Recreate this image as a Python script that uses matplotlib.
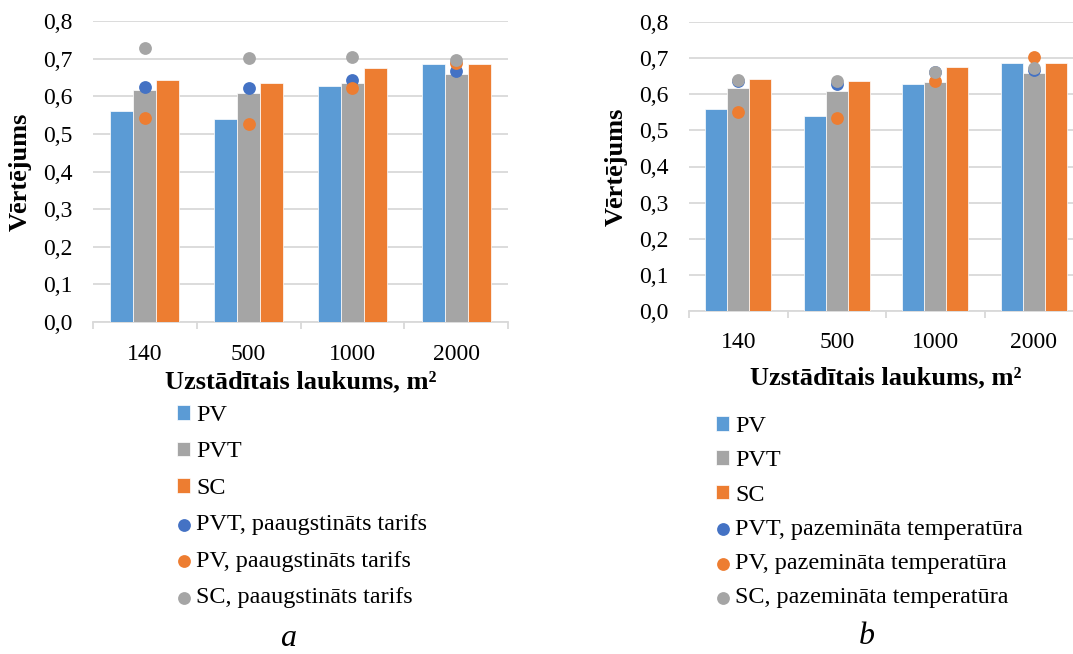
import matplotlib
matplotlib.use("Agg")
import matplotlib.pyplot as plt
import numpy as np
from matplotlib.ticker import FuncFormatter

plt.rcParams['font.family'] = ['Liberation Serif', 'DejaVu Serif']

categories = ["140", "500", "1000", "2000"]

# Bars (same in both panels)
pv_a = [0.56, 0.54, 0.627, 0.687]
pvt_a = [0.617, 0.608, 0.635, 0.660]
sc_a = [0.643, 0.636, 0.674, 0.687]

pv_b = [0.56, 0.54, 0.628, 0.688]
pvt_b = [0.617, 0.609, 0.635, 0.660]
sc_b = [0.643, 0.636, 0.675, 0.688]

# Points panel a (paaugstināts tarifs)
pvt_pt_a = [0.624, 0.622, 0.644, 0.668]
pv_pt_a = [0.542, 0.526, 0.621, 0.688]
sc_pt_a = [0.727, 0.701, 0.703, 0.697]

# Points panel b (pazemināta temperatūra)
pvt_pt_b = [0.637, 0.628, 0.661, 0.668]
pv_pt_b = [0.550, 0.534, 0.638, 0.705]
sc_pt_b = [0.640, 0.638, 0.662, 0.672]

labels_a = ["PV", "PVT", "SC", "PVT, paaugstināts tarifs",
            "PV, paaugstināts tarifs", "SC, paaugstināts tarifs"]
labels_b = ["PV", "PVT", "SC", "PVT, pazemināta temperatūra",
            "PV, pazemināta temperatūra", "SC, pazemināta temperatūra"]

C_PV = "#5B9BD5"
C_PVT = "#A5A5A5"
C_SC = "#ED7D31"
C_DOT_BLUE = "#4472C4"
C_DOT_OR = "#ED7D31"
C_DOT_GR = "#A5A5A5"
GRID = "#D9D9D9"

W, H = 1073, 654
fig = plt.figure(figsize=(W / 100, H / 100), dpi=100)


def px_axes(l, t, r, b):
    return fig.add_axes([l / W, 1 - b / H, (r - l) / W, (b - t) / H])


def draw_panel(ax, pv, pvt, sc, p_pvt, p_pv, p_sc, labels,
               leg_xy, leg_spacing, xpad, xlabpad):
    x = np.arange(len(categories))
    bw = 1 / 4.5
    b1 = ax.bar(x - bw, pv, bw, color=C_PV, edgecolor="white", linewidth=0.5, zorder=2)
    b2 = ax.bar(x, pvt, bw, color=C_PVT, edgecolor="white", linewidth=0.5, zorder=2)
    b3 = ax.bar(x + bw, sc, bw, color=C_SC, edgecolor="white", linewidth=0.5, zorder=2)
    s1 = ax.scatter(x, p_pvt, s=85, color=C_DOT_BLUE, zorder=3, linewidths=0)
    s2 = ax.scatter(x, p_pv, s=85, color=C_DOT_OR, zorder=4, linewidths=0)
    s3 = ax.scatter(x, p_sc, s=85, color=C_DOT_GR, zorder=5, linewidths=0)

    ax.set_xlim(-0.5, len(categories) - 0.5)
    ax.set_ylim(0, 0.8)
    ax.set_yticks(np.arange(0, 0.81, 0.1))
    ax.yaxis.set_major_formatter(FuncFormatter(lambda v, p: f"{v:.1f}".replace(".", ",")))
    ax.grid(axis="y", color=GRID, linewidth=1.3, zorder=0)
    ax.set_axisbelow(True)
    for s in ["top", "right", "left"]:
        ax.spines[s].set_visible(False)
    ax.spines["bottom"].set_color(GRID)
    ax.spines["bottom"].set_linewidth(1.3)
    ax.spines["bottom"].set_zorder(1)

    ax.set_xticks(x)
    ax.set_xticklabels(categories)
    ax.set_xticks(np.arange(-0.5, len(categories), 1.0), minor=True)
    ax.tick_params(axis="x", which="major", length=0, pad=xpad, labelsize=17)
    ax.tick_params(axis="x", which="minor", length=5, width=1.3, color=GRID)
    ax.tick_params(axis="y", length=0, pad=15, labelsize=17)

    ax.set_ylabel("Vērtējums", fontsize=19, fontweight="bold", labelpad=8)
    ax.set_xlabel("Uzstādītais laukums, m²", fontsize=19, fontweight="bold",
                  labelpad=xlabpad)

    handles = [b1, b2, b3, s1, s2, s3]
    fig.legend(handles, labels, loc="upper left",
               bbox_to_anchor=(leg_xy[0] / W, 1 - leg_xy[1] / H),
               frameon=False, fontsize=17.4, handlelength=0.55, handleheight=0.55,
               handletextpad=0.25, labelspacing=leg_spacing, borderpad=0,
               borderaxespad=0, markerscale=1.0, scatterpoints=1)


ax1 = px_axes(93, 21, 508, 322)
draw_panel(ax1, pv_a, pvt_a, sc_a, pvt_pt_a, pv_pt_a, sc_pt_a, labels_a,
           (177, 405), 0.64, 16, 4)

ax2 = px_axes(689, 22.3, 1083, 310.7)
draw_panel(ax2, pv_b, pvt_b, sc_b, pvt_pt_b, pv_pt_b, sc_pt_b, labels_b,
           (716, 416), 0.55, 15, 10)

fig.text(288 / W, 1 - 638 / H, "a", fontsize=23, style="italic", ha="center", va="center")
fig.text(867 / W, 1 - 637 / H, "b", fontsize=23, style="italic", ha="center", va="center")

fig.savefig("out.png", dpi=100)
